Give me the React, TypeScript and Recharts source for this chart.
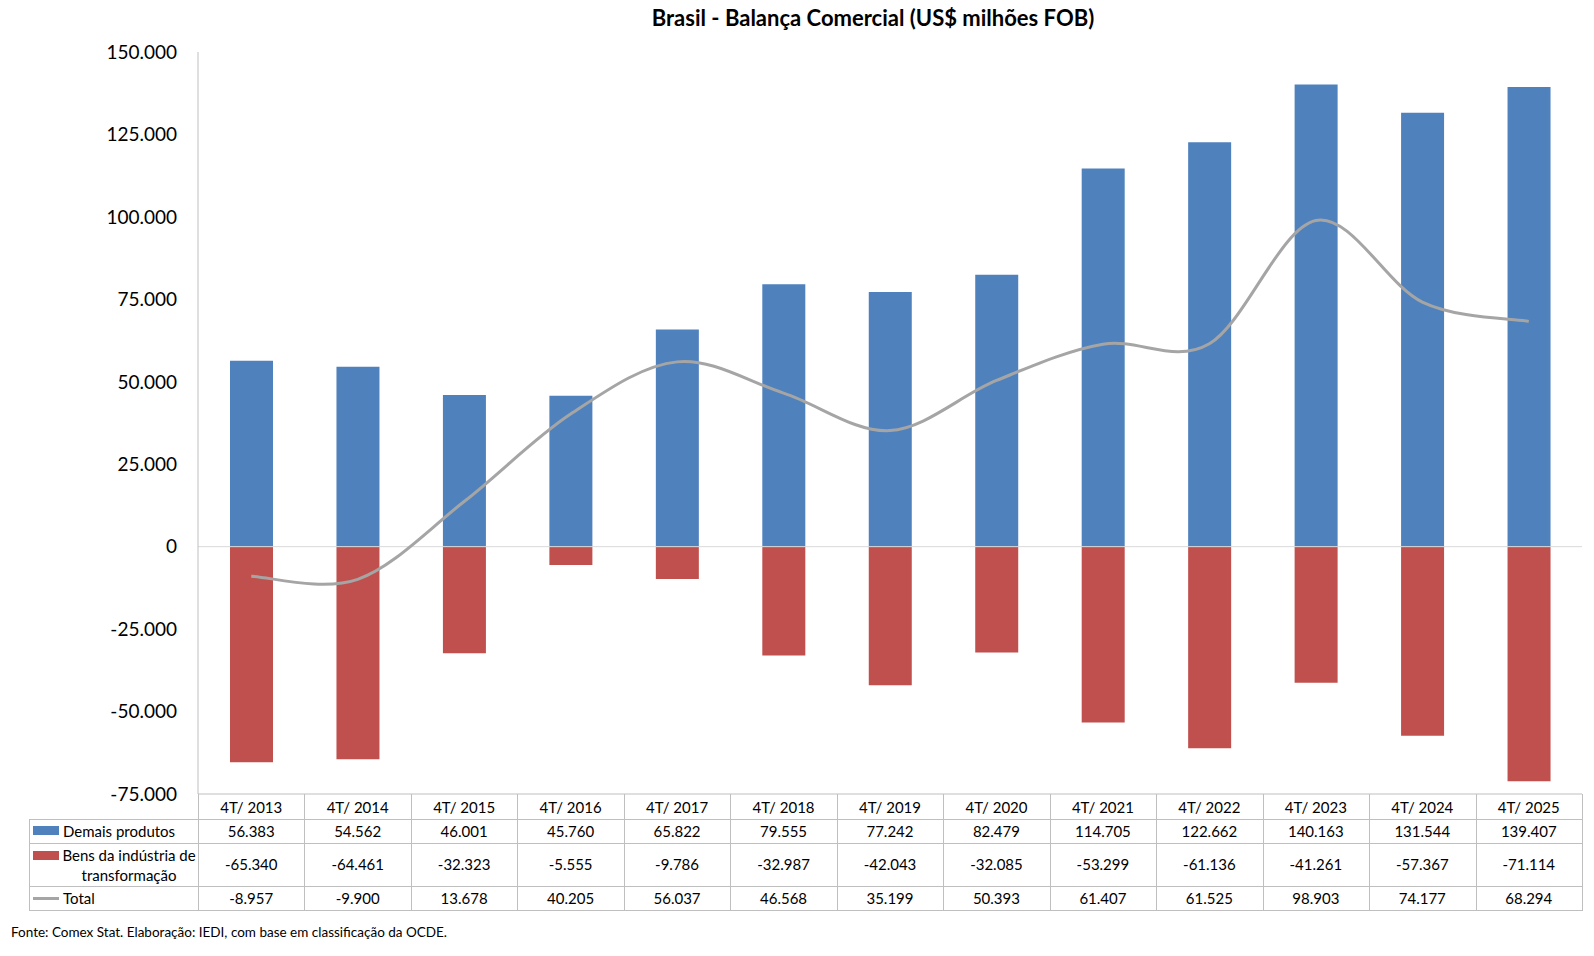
import React from 'react';
import { ComposedChart, Bar, Line, XAxis, YAxis, ReferenceLine } from 'recharts';

const categories = ['4T/ 2013', '4T/ 2014', '4T/ 2015', '4T/ 2016', '4T/ 2017', '4T/ 2018', '4T/ 2019', '4T/ 2020', '4T/ 2021', '4T/ 2022', '4T/ 2023', '4T/ 2024', '4T/ 2025'];
const demais = [56383, 54562, 46001, 45760, 65822, 79555, 77242, 82479, 114705, 122662, 140163, 131544, 139407];
const bens = [-65340, -64461, -32323, -5555, -9786, -32987, -42043, -32085, -53299, -61136, -41261, -57367, -71114];
const total = [-8957, -9900, 13678, 40205, 56037, 46568, 35199, 50393, 61407, 61525, 98903, 74177, 68294];
const yTicks = [-75000, -50000, -25000, 0, 25000, 50000, 75000, 100000, 125000, 150000];

const seriesNames = ['Demais produtos', 'Bens da indústria de transformação', 'Total'];
const COLORS = { demais: '#4F81BD', bens: '#C0504D', total: '#A5A5A5' };

const data = categories.map((cat, i) => ({ cat, demais: demais[i], bens: bens[i], total: total[i] }));

const fmt = (v: number) => {
  const s = Math.abs(v).toString().replace(/\B(?=(\d{3})+(?!\d))/g, '.');
  return (v < 0 ? '-' : '') + s;
};

// Excel-like smoothed line (Catmull-Rom Bezier)
function excelCurve(context: any) {
  let pts: number[][] = [];
  return {
    areaStart() {},
    areaEnd() {},
    lineStart() {
      pts = [];
    },
    lineEnd() {
      const n = pts.length;
      if (!n) return;
      context.moveTo(pts[0][0], pts[0][1]);
      for (let i = 0; i < n - 1; i++) {
        const p0 = pts[i - 1] || pts[i];
        const p1 = pts[i];
        const p2 = pts[i + 1];
        const p3 = pts[i + 2] || p2;
        context.bezierCurveTo(
          p1[0] + (p2[0] - p0[0]) / 6,
          p1[1] + (p2[1] - p0[1]) / 6,
          p2[0] - (p3[0] - p1[0]) / 6,
          p2[1] - (p3[1] - p1[1]) / 6,
          p2[0],
          p2[1]
        );
      }
    },
    point(x: number, y: number) {
      pts.push([+x, +y]);
    },
  };
}

const W = 1594;
const H = 956;
const L = 198;
const R = 1582;
const TOP = 52;
const AXIS_Y = 794;
const XAXIS_H = 30;
const TL = 29;
const COLW = (R - L) / categories.length;
const GRID = '#BFBFBF';
const FONT = 'Lato, "Open Sans", sans-serif';

const CatTick = (props: any) => (
  <text
    x={props.x}
    y={props.y + 13}
    textAnchor="middle"
    dominantBaseline="central"
    fill="#000"
    fontSize={15}
    fontFamily={FONT}
  >
    {props.payload.value}
  </text>
);

const hLine = (y: number, x1: number, x2: number, key: string) => (
  <div key={key} style={{ position: 'absolute', left: x1, top: y, width: x2 - x1 + 1, height: 1, background: GRID }} />
);
const vLine = (x: number, y1: number, y2: number, key: string) => (
  <div key={key} style={{ position: 'absolute', left: x, top: y1, width: 1, height: y2 - y1 + 1, background: GRID }} />
);

const cellText = (text: string, cx: number, cy: number, key: string) => (
  <div
    key={key}
    style={{
      position: 'absolute',
      left: cx - 60,
      width: 120,
      top: cy - 10,
      height: 20,
      lineHeight: '20px',
      textAlign: 'center',
      fontSize: 15,
      fontFamily: FONT,
      color: '#000',
    }}
  >
    {text}
  </div>
);

export default function App() {
  const rows = [
    { vals: demais, cy: 831 },
    { vals: bens, cy: 864 },
    { vals: total, cy: 898 },
  ];
  const lines: React.ReactNode[] = [];
  [819, 843, 886, 910].forEach((y, i) => lines.push(hLine(y, TL, R, 'h' + i)));
  lines.push(vLine(TL, 819, 910, 'vl'));
  for (let k = 0; k <= categories.length; k++) {
    lines.push(vLine(Math.round(L + k * COLW), AXIS_Y, 910, 'v' + k));
  }
  const texts: React.ReactNode[] = [];
  rows.forEach((r, ri) =>
    r.vals.forEach((v, i) => texts.push(cellText(fmt(v), L + (i + 0.5) * COLW, r.cy, `t${ri}-${i}`)))
  );

  return (
    <div style={{ position: 'absolute', left: 0, top: 0, width: W, height: H, background: '#fff', overflow: 'hidden' }}>
      <div
        style={{
          position: 'absolute',
          left: 873 - 400,
          width: 800,
          top: 3,
          height: 30,
          lineHeight: '30px',
          textAlign: 'center',
          fontSize: 22,
          fontWeight: 700,
          fontFamily: FONT,
          color: '#000',
        }}
      >
        Brasil - Balança Comercial (US$ milhões FOB)
      </div>
      <ComposedChart
        width={W}
        height={H}
        data={data}
        stackOffset="sign"
        margin={{ top: TOP, right: W - R, bottom: H - AXIS_Y - XAXIS_H, left: 0 }}
        style={{ position: 'absolute', left: 0, top: 0 }}
      >
        <XAxis
          dataKey="cat"
          tick={<CatTick />}
          tickLine={false}
          tickSize={0}
          tickMargin={0}
          axisLine={{ stroke: GRID }}
          interval={0}
          height={XAXIS_H}
        />
        <YAxis
          domain={[-75000, 150000]}
          ticks={yTicks}
          width={L}
          tickFormatter={fmt}
          tickLine={false}
          tickMargin={15}
          axisLine={{ stroke: GRID }}
          tick={{ fill: '#000', fontSize: 19, fontFamily: FONT }}
          allowDataOverflow
        />
        <ReferenceLine y={0} stroke="#D9D9D9" strokeWidth={1} />
        <Bar dataKey="demais" name={seriesNames[0]} stackId="a" fill={COLORS.demais} barSize={43} isAnimationActive={false} />
        <Bar dataKey="bens" name={seriesNames[1]} stackId="a" fill={COLORS.bens} barSize={43} isAnimationActive={false} />
        <Line
          dataKey="total"
          name={seriesNames[2]}
          type={excelCurve as any}
          stroke={COLORS.total}
          strokeWidth={3}
          dot={false}
          activeDot={false}
          isAnimationActive={false}
        />
      </ComposedChart>
      {lines}
      {texts}
      {/* legend keys in table */}
      <div style={{ position: 'absolute', left: 33, top: 826, width: 26, height: 9, background: COLORS.demais }} />
      <div style={{ position: 'absolute', left: 63, top: 821, height: 20, lineHeight: '20px', fontSize: 15, fontFamily: FONT, color: '#000', whiteSpace: 'nowrap' }}>
        {seriesNames[0]}
      </div>
      <div style={{ position: 'absolute', left: 33, top: 851, width: 26, height: 9, background: COLORS.bens }} />
      <div style={{ position: 'absolute', left: 61, top: 845, width: 136, lineHeight: '20px', fontSize: 15, fontFamily: FONT, color: '#000', textAlign: 'center' }}>
        Bens da indústria de<br />transformação
      </div>
      <div style={{ position: 'absolute', left: 33, top: 897, width: 26, height: 3, background: COLORS.total }} />
      <div style={{ position: 'absolute', left: 63, top: 888, height: 20, lineHeight: '20px', fontSize: 15, fontFamily: FONT, color: '#000', whiteSpace: 'nowrap' }}>
        {seriesNames[2]}
      </div>
      <div style={{ position: 'absolute', left: 11, top: 923, height: 18, lineHeight: '18px', fontSize: 13.5, fontFamily: FONT, color: '#000', whiteSpace: 'nowrap' }}>
        Fonte: Comex Stat. Elaboração: IEDI, com base em classificação da OCDE.
      </div>
    </div>
  );
}
